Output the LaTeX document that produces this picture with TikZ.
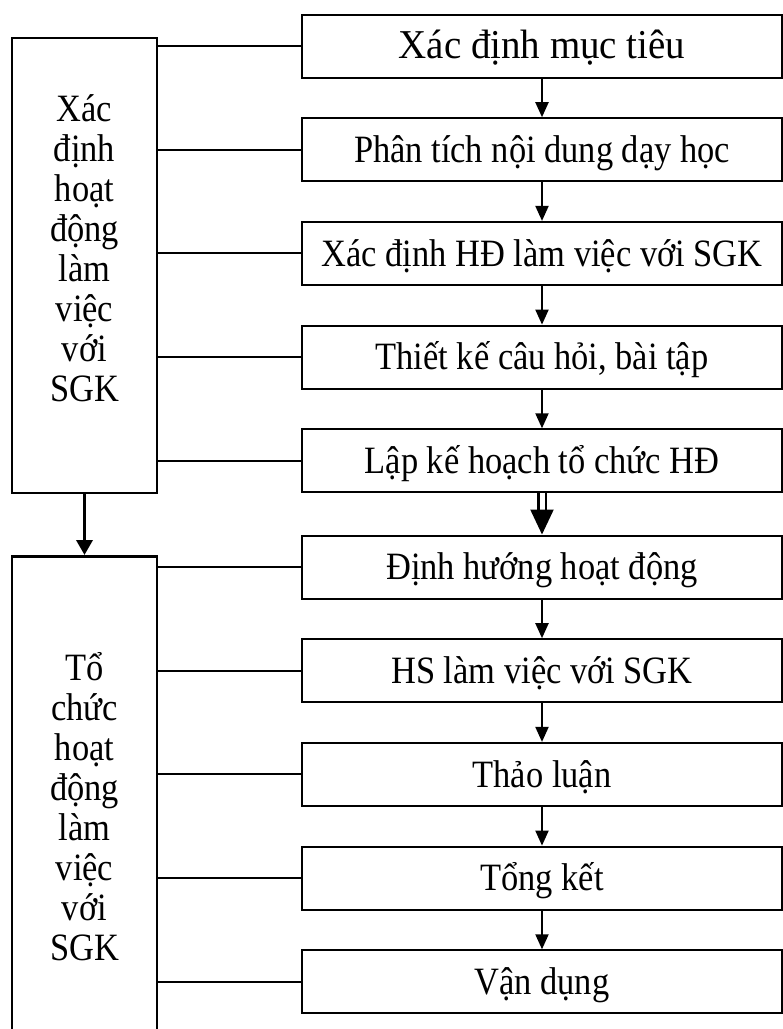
\documentclass[tikz,border=0pt]{standalone}
\usepackage{fontspec}
\setmainfont{Liberation Serif}
\newfontfamily\boxfont[FakeStretch=0.89]{Liberation Serif}
\newfontfamily\headfont[FakeStretch=0.95]{Liberation Serif}
\usetikzlibrary{positioning,arrows.meta}

\begin{document}
\begin{tikzpicture}[x=1pt, y=-1pt,
		font={\fontsize{38.7}{40}\boxfont},
		stepbox/.style={draw, line width=2pt, minimum width=480pt, minimum height=63pt,
		                inner sep=0pt, text height=34.8pt, text depth=9.3pt},
		sidebox/.style={draw, line width=2.5pt, minimum width=145pt},
		sidetext/.style={align=center, inner sep=0pt, anchor=south},
		link/.style={line width=2pt},
		flow/.style={line width=2pt, -{Triangle[length=15pt,width=13pt]}}]
		\useasboundingbox (0,0) rectangle (783,1029);
		\clip (0,0) rectangle (783,1029);
		% planning steps
		\node[stepbox, font={\fontsize{41}{40}\headfont}] (s1) at (542, 46) {Xác định mục tiêu};
		\foreach \i/\txt in {2/{Phân tích nội dung dạy học}, 3/{Xác định HĐ làm việc với SGK},
		                     4/{Thiết kế câu hỏi, bài tập}, 5/{Lập kế hoạch tổ chức HĐ}}
			\node[stepbox] (s\i) at (542, {46+103.7*(\i-1)}) {\txt};
		% carrying-out steps
		\foreach \i/\txt in {6/{Định hướng hoạt động}, 7/{HS làm việc với SGK},
		                     8/{Thảo luận}, 9/{Tổng kết}, 10/{Vận dụng}}
			\node[stepbox] (s\i) at (542, {567+103.7*(\i-6)}) {\txt};
		\node[sidebox, minimum height=455pt] (plan) at (84.5, 265.5) {};
		\node[sidebox, minimum height=520pt, anchor=north] (run) at (84.5, 555) {};
		\node[sidetext] (plantext) at (84.5, 401.7) {Xác\\định\\hoạt\\động\\làm\\việc\\với\\SGK};
		\node[sidetext] (runtext) at (84.5, 961) {Tổ\\chức\\hoạt\\động\\làm\\việc\\với\\SGK};
		\foreach \i in {1,...,5} \draw[link] (s\i.west) -- (s\i.west -| plan.east);
		\foreach \i in {6,...,10} \draw[link] (s\i.west) -- (s\i.west -| run.east);
		\foreach \i/\j in {1/2, 2/3, 3/4, 4/5, 6/7, 7/8, 8/9, 9/10}
			\draw[flow] (s\i) -- (s\j);
		\draw[line width=2.3pt, double, double distance=5pt,
		      -{Triangle[length=25pt,width=23pt]}] (s5) -- (s6);
		\draw[line width=3.5pt, -{Triangle[length=15pt,width=16pt]}] (plan) -- (run);
	\end{tikzpicture}
\end{document}
